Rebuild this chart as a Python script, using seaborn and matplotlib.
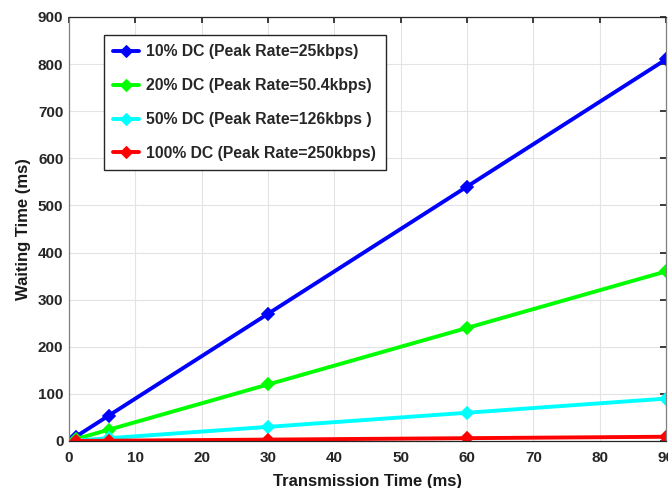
import numpy as np
import pandas as pd
import seaborn as sns
import matplotlib.pyplot as plt

tx_time = [1, 6, 30, 60, 90]
wait_10 = [9, 54, 270, 540, 810]
wait_20 = [4, 24, 120, 240, 360]
wait_50 = [1, 6, 30, 60, 90]
wait_100 = [0.1, 0.6, 3, 6, 9]

labels = [
    "10% DC (Peak Rate=25kbps)",
    "20% DC (Peak Rate=50.4kbps)",
    "50% DC (Peak Rate=126kbps )",
    "100% DC (Peak Rate=250kbps)",
]
colors = ["#0000ff", "#00ff00", "#00ffff", "#ff0000"]

df = pd.concat([
    pd.DataFrame({"x": tx_time, "y": w, "series": lab})
    for w, lab in zip([wait_10, wait_20, wait_50, wait_100], labels)
])

sns.set_theme(style="whitegrid")
plt.rcParams["font.family"] = ["Liberation Sans", "DejaVu Sans"]
plt.rcParams["font.weight"] = "bold"

fig = plt.figure(figsize=(6.68, 4.88), dpi=100)
ax = fig.add_axes([69 / 668, 47 / 488, 597 / 668, 424 / 488])

sns.lineplot(data=df, x="x", y="y", hue="series", palette=colors, marker="D",
             markersize=6.5, linewidth=2.8, ax=ax)
for line, c in zip(ax.lines, colors):
    line.set_markeredgecolor(c)
    line.set_markerfacecolor(c)
    line.set_markeredgewidth(1.2)

ax.set_xlim(0, 90)
ax.set_ylim(0, 900)
ax.set_xticks(range(0, 91, 10))
ax.set_yticks(range(0, 901, 100))
ax.grid(True, color="#e3e3e3", linewidth=0.8)
ax.spines["top"].set_color("#262626")
ax.spines["bottom"].set_color("#262626")
ax.spines["left"].set_color("#808080")
ax.spines["right"].set_color("#808080")
for s in ax.spines.values():
    s.set_linewidth(0.9)
ax.tick_params(direction="in", length=4, color="#262626", labelsize=11,
               top=True, right=True, labelcolor="#262626")
ax.tick_params(axis="x", pad=7)
ax.tick_params(axis="y", pad=4)
for t in ax.get_xticklabels() + ax.get_yticklabels():
    t.set_fontweight("bold")
ax.set_xlabel("Transmission Time (ms)", fontsize=12, fontweight="bold", color="#1a1a1a", labelpad=7)
ax.set_ylabel("Waiting Time (ms)", fontsize=12, fontweight="bold", color="#1a1a1a", labelpad=5)

leg = ax.legend(loc="upper left", bbox_to_anchor=(0.0585, 0.9575),
                prop={"weight": "bold", "size": 11.3}, frameon=True, fancybox=False,
                edgecolor="#262626", framealpha=1, handlelength=1.65, labelspacing=1.2,
                borderpad=0.6, handletextpad=0.45, borderaxespad=0)
leg.get_frame().set_linewidth(1.0)
for h, c in zip(leg.legend_handles, colors):
    h.set_markeredgecolor(c)
    h.set_markerfacecolor(c)

fig.savefig("out.png", dpi=100)
